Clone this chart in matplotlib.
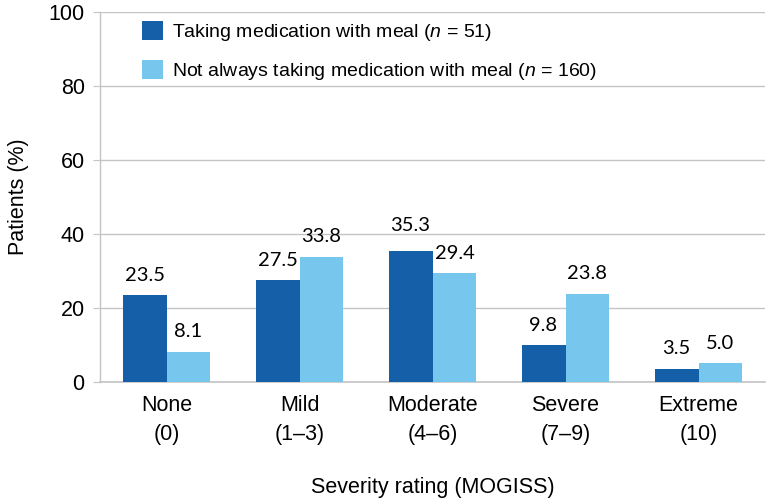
import matplotlib

matplotlib.use("Agg")
import matplotlib.pyplot as plt
import numpy as np
from matplotlib.patches import Patch

plt.rcParams["font.family"] = ["Liberation Sans", "DejaVu Sans"]
plt.rcParams["mathtext.fontset"] = "custom"
plt.rcParams["mathtext.rm"] = "Liberation Sans"
plt.rcParams["mathtext.it"] = "Liberation Sans:italic"

categories = ["None\n(0)", "Mild\n(1\u20133)", "Moderate\n(4\u20136)", "Severe\n(7\u20139)", "Extreme\n(10)"]
with_meal = [23.5, 27.5, 35.3, 9.8, 3.5]
not_always = [8.1, 33.8, 29.4, 23.8, 5.0]
series_labels = [
    r"Taking medication with meal ($\it{n}$ = 51)",
    r"Not always taking medication with meal ($\it{n}$ = 160)",
]
yticks = [0, 20, 40, 60, 80, 100]

DARK = "#155FA8"
LIGHT = "#76C6EE"
GRID = "#C4C4C4"

fig = plt.figure(figsize=(7.69, 5.01), dpi=100)
ax = fig.add_axes([100 / 769, 1 - 381.5 / 501, 665 / 769, 369.5 / 501])

x = np.arange(len(categories))
w = 0.33
b1 = ax.bar(x - w / 2, with_meal, w, color=DARK, zorder=3)
b2 = ax.bar(x + w / 2, not_always, w, color=LIGHT, zorder=3)

# data labels (35.3 sits a bit higher in the original)
for bars, vals in ((b1, with_meal), (b2, not_always)):
    for rect, v in zip(bars, vals):
        dy = 12.5 if v == 35.3 else 8
        ax.annotate(f"{v:.1f}", (rect.get_x() + rect.get_width() / 2, v),
                    xytext=(0, dy), textcoords="offset points",
                    ha="center", va="bottom", fontsize=14.5, family=["Lato", "DejaVu Sans"],
                    color="black")

ax.set_xlim(-0.5, len(categories) - 0.5)
ax.set_ylim(0, 100)
ax.set_yticks(yticks)
ax.set_xticks(x)
ax.set_xticklabels(categories, fontsize=15.5, linespacing=1.45)
ax.tick_params(axis="y", labelsize=15.5, length=5, color=GRID, pad=6)
ax.tick_params(axis="x", length=0, pad=10)
ax.yaxis.grid(True, color=GRID, lw=1.0, zorder=0)
for s in ("top", "right"):
    ax.spines[s].set_visible(False)
ax.spines["left"].set_color(GRID)
ax.spines["bottom"].set_color(GRID)
ax.spines["left"].set_linewidth(1.0)
ax.spines["bottom"].set_linewidth(1.2)

ax.set_ylabel("Patients (%)", fontsize=15.5, labelpad=14)
ax.set_xlabel("Severity rating (MOGISS)", fontsize=15.5, labelpad=23)

handles = [Patch(facecolor=DARK), Patch(facecolor=LIGHT)]
fig.legend(handles, series_labels, loc="upper left",
           bbox_to_anchor=(142 / 769, 1 - 21 / 501), frameon=False,
           fontsize=14, handlelength=1.1, handleheight=1.1, handletextpad=0.45,
           labelspacing=0.9, borderpad=0, borderaxespad=0)

fig.savefig("out.png", dpi=100)
